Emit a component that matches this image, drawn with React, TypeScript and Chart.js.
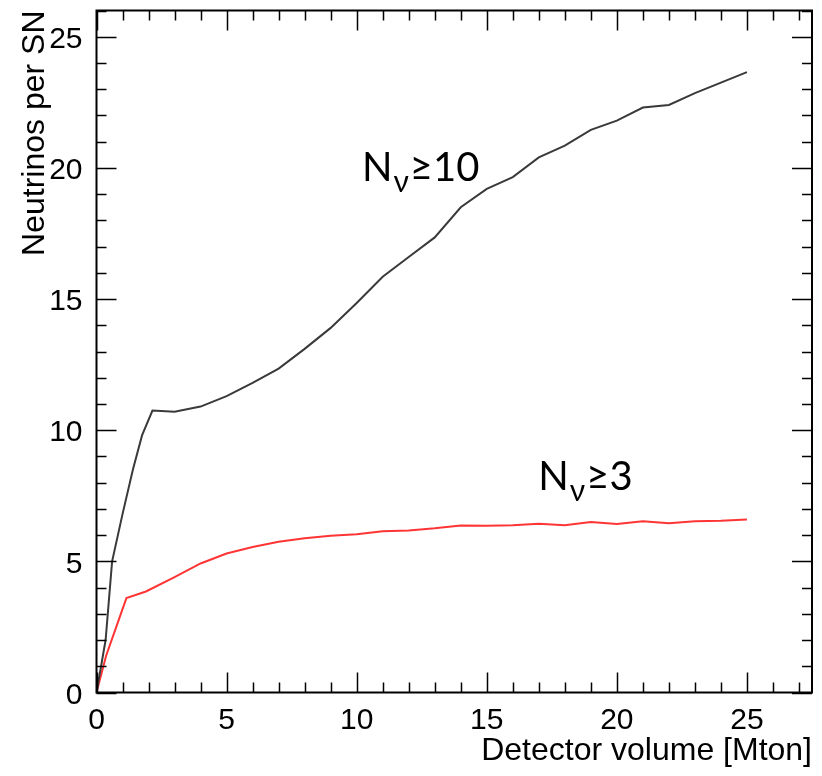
import { useEffect, useRef } from "react";
import { Chart, registerables } from "chart.js";

Chart.register(...registerables);

// ---- data ----
const blackX = [0, 0.35, 0.6, 1.0, 1.4, 1.75, 2.15, 3, 4, 5, 6, 7, 8, 9, 10, 11, 12, 13, 14, 15, 16, 17, 18, 19, 20, 21, 22, 23, 24, 25];
const blackY = [0, 2.0, 5.0, 6.8, 8.5, 9.8, 10.75, 10.7, 10.9, 11.3, 11.8, 12.35, 13.1, 13.9, 14.85, 15.85, 16.6, 17.35, 18.5, 19.2, 19.65, 20.4, 20.85, 21.45, 21.8, 22.3, 22.4, 22.85, 23.25, 23.65];

const redX = [0, 0.37, 0.76, 1.15, 1.9, 3, 4, 5, 6, 7, 8, 9, 10, 11, 12, 13, 14, 15, 16, 17, 18, 19, 20, 21, 22, 23, 24, 25];
const redY = [0, 1.4, 2.5, 3.6, 3.85, 4.4, 4.92, 5.3, 5.55, 5.75, 5.88, 5.98, 6.03, 6.15, 6.18, 6.26, 6.37, 6.36, 6.38, 6.43, 6.38, 6.5, 6.42, 6.53, 6.45, 6.53, 6.55, 6.6];

const xRange = [0, 27.5];
const yRange = [0, 26];
const majorStep = 5;
const minorStep = 1;

const xTitle = "Detector volume [Mton]";
const yTitle = "Neutrinos per SN";

const annotations = [
  { main: "N", sub: "ν", rest: "≥10", x: 10.2, y: 19.5 },
  { main: "N", sub: "ν", rest: "≥3", x: 16.98, y: 7.73 },
];

const AXIS_FONT = '"Liberation Sans", Arial, Helvetica, sans-serif';
const NOTE_FONT = 'Lato, "Open Sans", sans-serif';

const frameTicksPlugin = {
  id: "frameTicks",
  afterDatasetsDraw(chart: any) {
    const { ctx, chartArea: a, scales } = chart;
    const xs = scales.x;
    const ys = scales.y;
    ctx.save();
    ctx.strokeStyle = "#000";
    ctx.lineWidth = 1.5;
    ctx.beginPath();
    for (let v = xRange[0]; v <= xRange[1] + 1e-9; v += minorStep) {
      const px = Math.round(xs.getPixelForValue(v)) + 0.5;
      const len = Math.abs(v % majorStep) < 1e-9 ? 20 : 10;
      ctx.moveTo(px, a.bottom);
      ctx.lineTo(px, a.bottom - len);
      ctx.moveTo(px, a.top);
      ctx.lineTo(px, a.top + len);
    }
    for (let v = yRange[0]; v <= yRange[1] + 1e-9; v += minorStep) {
      const py = Math.round(ys.getPixelForValue(v)) + 0.5;
      const len = Math.abs(v % majorStep) < 1e-9 ? 20 : 10;
      ctx.moveTo(a.left, py);
      ctx.lineTo(a.left + len, py);
      ctx.moveTo(a.right, py);
      ctx.lineTo(a.right - len, py);
    }
    ctx.stroke();
    ctx.lineWidth = 2;
    ctx.strokeRect(a.left, a.top, a.right - a.left, a.bottom - a.top);
    ctx.restore();
  },
};

const annotationPlugin = {
  id: "notes",
  afterDatasetsDraw(chart: any) {
    const { ctx, scales } = chart;
    ctx.save();
    ctx.fillStyle = "#000";
    ctx.textAlign = "left";
    ctx.textBaseline = "alphabetic";
    for (const n of annotations) {
      let px = scales.x.getPixelForValue(n.x);
      const py = scales.y.getPixelForValue(n.y);
      ctx.font = `40px ${NOTE_FONT}`;
      ctx.fillText(n.main, px, py);
      px += ctx.measureText(n.main).width + 1;
      ctx.font = `30px ${NOTE_FONT}`;
      ctx.fillText(n.sub, px, py + 11);
      px += ctx.measureText(n.sub).width + 1;
      ctx.font = `40px ${NOTE_FONT}`;
      ctx.fillText(n.rest, px, py);
    }
    ctx.restore();
  },
};

export default function App() {
  const ref = useRef<HTMLCanvasElement | null>(null);

  useEffect(() => {
    if (!ref.current) return;
    const chart = new Chart(ref.current, {
      type: "scatter",
      data: {
        datasets: [
          {
            label: "Nν≥10",
            data: blackX.map((x, i) => ({ x, y: blackY[i] })),
            showLine: true,
            borderColor: "#3a3a3a",
            borderWidth: 2,
            pointRadius: 0,
            tension: 0,
          },
          {
            label: "Nν≥3",
            data: redX.map((x, i) => ({ x, y: redY[i] })),
            showLine: true,
            borderColor: "#ff3535",
            borderWidth: 2,
            pointRadius: 0,
            tension: 0,
          },
        ],
      },
      options: {
        animation: false,
        responsive: false,
        maintainAspectRatio: false,
        devicePixelRatio: 1,
        layout: { padding: { top: 10.5, right: 10, left: 0, bottom: 0 } },
        plugins: { legend: { display: false }, tooltip: { enabled: false } },
        scales: {
          x: {
            type: "linear",
            min: xRange[0],
            max: xRange[1],
            grid: { display: false },
            border: { display: false },
            ticks: {
              stepSize: majorStep,
              includeBounds: false,
              padding: 2.5,
              maxRotation: 0,
              autoSkip: false,
              color: "#000",
              font: { family: AXIS_FONT, size: 30 },
            },
            title: {
              display: true,
              text: xTitle,
              align: "end",
              color: "#000",
              font: { family: AXIS_FONT, size: 32 },
              padding: { top: 0, bottom: 6 },
            },
            afterFit: (s: any) => {
              s.height = 83.5;
              s.paddingLeft = 0;
              s.paddingRight = 0;
              s.paddingTop = 0;
              s.paddingBottom = 0;
            },
          },
          y: {
            type: "linear",
            min: yRange[0],
            max: yRange[1],
            grid: { display: false },
            border: { display: false },
            ticks: {
              stepSize: majorStep,
              includeBounds: false,
              padding: 6,
              labelOffset: 3,
              color: "#000",
              font: { family: AXIS_FONT, size: 30 },
            },
            title: {
              display: true,
              text: yTitle,
              align: "end",
              color: "#000",
              font: { family: AXIS_FONT, size: 32 },
              padding: { top: 16, bottom: 0 },
            },
            afterFit: (s: any) => {
              s.width = 96.5;
              s.paddingLeft = 0;
              s.paddingRight = 0;
              s.paddingTop = 0;
              s.paddingBottom = 0;
            },
          },
        },
      } as any,
      plugins: [frameTicksPlugin, annotationPlugin],
    });
    return () => chart.destroy();
  }, []);

  return (
    <div style={{ position: "fixed", left: 0, top: 0, width: 822, height: 776, background: "#fff" }}>
      <canvas ref={ref} width={822} height={776} style={{ display: "block" }} />
    </div>
  );
}
